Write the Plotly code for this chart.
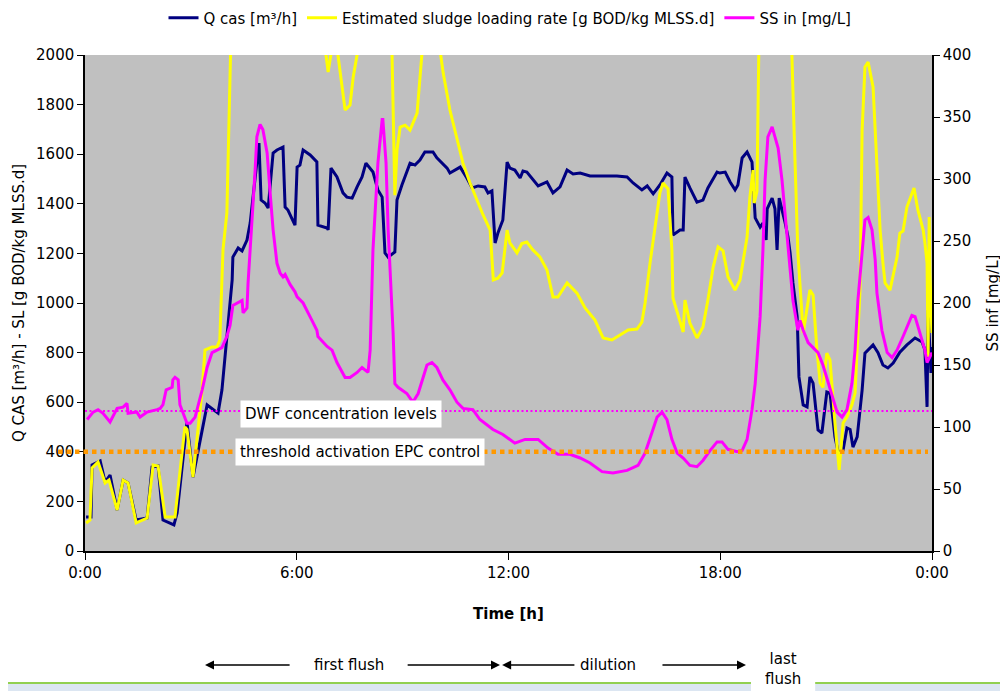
import plotly.graph_objects as go

# ---------------- data (time in decimal hours) ----------------
Q_T = [0.03,0.17,0.20,0.43,0.57,0.71,0.91,1.08,1.22,1.45,
       1.76,1.90,2.07,2.21,2.52,2.61,2.89,3.06,3.46,3.77,
       3.88,4.17,4.19,4.34,4.45,4.59,4.68,4.76,4.87,4.93,
       4.99,5.10,5.19,5.33,5.44,5.61,5.67,5.75,5.95,6.01,
       6.09,6.18,6.38,6.57,6.60,6.86,6.89,6.97,7.14,7.31,
       7.42,7.57,7.71,7.85,7.96,8.16,8.30,8.42,8.50,8.59,
       8.78,8.84,8.98,9.21,9.35,9.49,9.63,9.86,9.97,10.26,
       10.34,10.63,10.82,10.97,11.14,11.33,11.42,11.53,11.62,11.70,
       11.84,11.96,12.04,12.18,12.33,12.41,12.52,12.69,12.84,13.09,
       13.26,13.46,13.66,13.83,14.03,14.31,14.68,15.07,15.36,15.53,
       15.78,15.93,16.10,16.29,16.49,16.63,16.66,16.86,16.95,17.00,
       17.14,17.34,17.51,17.65,17.91,17.99,18.14,18.28,18.42,18.50,
       18.62,18.76,18.90,18.99,19.13,19.21,19.30,19.33,19.47,19.55,
       19.61,19.67,19.84,19.92,19.98,20.06,20.18,20.23,20.35,20.46,
       20.54,20.63,20.77,20.88,21.02,21.11,21.25,21.34,21.48,21.59,
       21.68,21.76,21.88,22.02,22.10,22.33,22.47,22.61,22.75,22.90,
       23.09,23.29,23.52,23.72,23.80,23.86,23.89,23.97,24.00]
Q_CAS = [137,137,347,363,278,306,165,286,274,125,
         133,339,343,125,105,153,520,298,589,556,
         649,1093,1185,1222,1210,1254,1322,1427,1564,1645,
         1415,1403,1383,1605,1617,1629,1387,1375,1314,1548,
         1556,1617,1597,1569,1314,1302,1295,1544,1508,1444,
         1427,1423,1468,1508,1564,1528,1456,1427,1202,1185,
         1206,1415,1476,1564,1556,1576,1609,1609,1585,1544,
         1524,1548,1504,1464,1472,1468,1444,1452,1242,1282,
         1335,1568,1544,1536,1504,1532,1528,1496,1472,1488,
         1444,1468,1536,1520,1524,1512,1512,1512,1508,1484,
         1456,1472,1440,1476,1524,1508,1274,1294,1294,1508,
         1464,1407,1415,1464,1528,1524,1528,1488,1456,1476,
         1585,1609,1568,1343,1306,1322,1254,1380,1423,1380,
         1214,1423,1322,1266,1202,1081,944,702,589,581,
         702,677,488,476,641,637,460,400,407,496,
         490,419,460,649,798,831,800,750,738,758,
         802,831,859,843,810,581,972,718,823]

SL_T = [0.03,0.14,0.20,0.37,0.57,0.68,0.91,1.08,1.22,1.45,
        1.76,1.93,2.07,2.27,2.55,2.83,2.89,3.06,3.31,3.40,
        3.60,3.74,3.82,3.91,4.02,4.08,4.14,4.40,5.20,6.20,
        6.80,6.89,7.02,7.08,7.14,7.37,7.51,7.60,7.77,8.20,
        8.65,8.70,8.78,8.84,8.93,9.07,9.21,9.41,9.55,9.80,
        10.06,10.15,10.34,10.57,10.71,10.91,11.11,11.28,11.48,11.57,
        11.70,11.82,11.96,12.04,12.24,12.38,12.52,12.69,12.89,13.09,
        13.26,13.40,13.66,13.94,14.17,14.45,14.68,14.93,15.16,15.39,
        15.64,15.78,15.87,16.01,16.29,16.38,16.52,16.63,16.66,16.80,
        16.95,17.00,17.14,17.34,17.51,17.65,17.80,17.94,18.08,18.22,
        18.42,18.56,18.70,18.76,18.84,18.93,18.96,19.04,19.10,19.50,
        19.98,20.03,20.12,20.20,20.35,20.54,20.63,20.74,20.83,20.91,
        21.02,21.11,21.25,21.37,21.48,21.59,21.73,21.82,21.96,22.02,
        22.10,22.19,22.33,22.44,22.53,22.61,22.67,22.81,22.90,23.01,
        23.09,23.18,23.29,23.43,23.49,23.60,23.75,23.80,23.86,23.89,
        23.92,23.94,24.00]
SLUDGE_LOAD = [113,125,335,359,274,286,165,286,274,113,
               133,347,343,137,137,500,490,298,637,810,
               823,823,851,1214,1363,1698,2100,2600,3000,2700,
               2050,1931,2050,2100,2030,1778,1798,1911,2050,2600,
               2100,2000,1435,1617,1709,1717,1697,1766,2010,2300,
               2020,1927,1778,1637,1564,1484,1415,1355,1294,1093,
               1100,1121,1294,1242,1202,1240,1246,1214,1186,1133,
               1024,1024,1081,1040,980,931,859,851,871,891,
               895,923,1000,1161,1444,1484,1460,1214,1020,952,
               883,1012,919,859,903,1012,1145,1226,1210,1105,
               1052,1093,1214,1266,1427,1536,1403,1450,2100,2800,
               2100,2000,1564,1202,879,1052,1032,810,677,660,
               798,770,516,327,516,540,589,637,1052,1698,
               1952,1972,1871,1564,1294,1161,1081,1052,1110,1185,
               1282,1290,1387,1443,1464,1375,1294,1242,1161,782,
               1347,1121,879]

SS_T = [0.06,0.09,0.23,0.37,0.51,0.71,0.91,1.08,1.19,1.22,
        1.47,1.56,1.76,2.04,2.13,2.21,2.30,2.47,2.49,2.55,
        2.64,2.69,2.89,2.98,3.12,3.32,3.46,3.60,3.74,3.88,
        4.02,4.11,4.19,4.39,4.45,4.48,4.59,4.62,4.68,4.73,
        4.82,4.87,4.96,5.04,5.16,5.24,5.33,5.44,5.53,5.61,
        5.67,5.81,5.95,6.01,6.18,6.43,6.57,6.60,6.86,7.00,
        7.14,7.37,7.51,7.71,7.85,8.02,8.08,8.16,8.30,8.42,
        8.44,8.53,8.59,8.73,8.78,8.87,9.12,9.29,9.44,9.69,
        9.83,9.97,10.14,10.34,10.54,10.71,10.99,11.19,11.56,11.84,
        12.18,12.47,12.84,13.12,13.40,13.74,14.03,14.31,14.65,14.96,
        15.36,15.67,15.87,16.07,16.21,16.35,16.49,16.63,16.78,16.95,
        17.14,17.34,17.51,17.71,17.91,18.05,18.22,18.48,18.62,18.76,
        18.90,18.99,19.13,19.21,19.27,19.35,19.47,19.55,19.64,19.75,
        19.84,19.92,19.98,20.06,20.20,20.26,20.35,20.49,20.63,20.77,
        20.91,21.11,21.31,21.45,21.59,21.73,21.82,21.90,22.02,22.10,
        22.19,22.30,22.39,22.44,22.58,22.73,22.87,23.01,23.18,23.43,
        23.52,23.66,23.80,23.86,24.00]
SS_IN = [106,107,112,114,111,104,115,116,119,111,
         112,108,112,114,115,118,130,132,138,140,
         138,118,103,103,108,130,148,160,162,164,
         173,182,198,201,202,192,196,216,243,259,
         307,334,344,340,321,291,259,232,224,221,
         223,215,209,205,200,186,178,173,165,162,
         152,140,140,144,148,144,162,243,313,348,
         348,313,259,176,135,132,127,120,127,150,
         152,148,138,130,120,115,114,106,98,94,
         87,90,90,83,78,78,75,71,64,63,
         65,69,79,96,108,112,106,90,79,75,
         69,68,73,81,88,88,82,80,81,90,
         114,135,189,243,299,334,342,334,325,299,
         269,245,224,202,178,186,178,168,164,160,
         150,130,112,108,114,135,162,202,243,267,
         269,259,235,208,178,160,156,162,173,190,
         189,176,162,152,160]

DWF_SS_LEVEL = 113        # mg/L (right axis)
EPC_THRESHOLD = 400       # left axis

X_TICKS = [0, 6, 12, 18, 24]
X_TICK_LABELS = ["0:00", "6:00", "12:00", "18:00", "0:00"]

# phase arrows (hours): (head, tail)
PHASE_ARROWS = [(3.40, 5.84), (11.76, 9.10), (11.82, 13.91), (18.73, 16.32),
                (18.84, 18.90), (20.83, 20.77)]
PHASE_LABELS = [("first flush", 7.48), ("dilution", 14.81)]
LAST_LABEL = ("last<br>flush", 19.78)
LAST_BOX = (18.87, 20.69)

FONT = "DejaVu Sans"

# geometry (page has an 8px body margin; figure sized to fill the window)
W, H = 1000, 683
ML, MR, MT, MB = 77, 76, 47, 140
PH = H - MT - MB   # plot height in px
PW = W - ML - MR   # plot width in px


def py(page_y):
    """paper y for a page pixel row"""
    return ((H - MB) - (page_y - 8)) / PH


def px(page_x):
    """paper x for a page pixel column"""
    return ((page_x - 8) - ML) / PW


fig = go.Figure()
fig.add_trace(go.Scatter(x=Q_T, y=Q_CAS, mode="lines", name="Q cas [m³/h]",
                         line=dict(color="#000080", width=3)))
fig.add_trace(go.Scatter(x=SL_T, y=SLUDGE_LOAD, mode="lines",
                         name="Estimated sludge loading rate [g BOD/kg MLSS.d]",
                         line=dict(color="#FFFF00", width=3)))
fig.add_trace(go.Scatter(x=SS_T, y=SS_IN, mode="lines", name="SS in [mg/L]",
                         yaxis="y2", line=dict(color="#FF00FF", width=3)))

shapes = [
    dict(type="line", xref="x", yref="y2", x0=0, x1=24, y0=DWF_SS_LEVEL, y1=DWF_SS_LEVEL,
         line=dict(color="#FF00FF", width=2, dash="2px,2.5px"), layer="above"),
    dict(type="line", xref="paper", yref="y", x0=px(58), x1=px(928), y0=EPC_THRESHOLD,
         y1=EPC_THRESHOLD, line=dict(color="#FF9900", width=4.5, dash="4.5px,4px"),
         layer="above"),
    dict(type="rect", xref="paper", yref="paper", x0=-0.1, x1=1.1, y0=py(683), y1=py(700),
         fillcolor="#DCE6F2", line=dict(width=0), layer="below"),
    dict(type="line", xref="paper", yref="paper", x0=-0.1, x1=1.1, y0=py(683), y1=py(683),
         line=dict(color="#92D050", width=2)),
    dict(type="rect", xref="x", yref="paper", x0=LAST_BOX[0], x1=LAST_BOX[1],
         y0=py(648), y1=py(700), fillcolor="white", line=dict(width=0)),
]

annotations = [
    dict(text="DWF concentration levels", xref="x", yref="y", x=4.39, y=552,
         xanchor="left", yanchor="middle", showarrow=False, bgcolor="white",
         borderpad=4, font=dict(size=15, color="black", family=FONT)),
    dict(text="threshold activation EPC control", xref="x", yref="y", x=4.25, y=399,
         xanchor="left", yanchor="middle", showarrow=False, bgcolor="white",
         borderpad=4, font=dict(size=15, color="black", family=FONT)),
]
ARROW_Y = py(665)
for head, tail in PHASE_ARROWS:
    annotations.append(dict(text="", xref="x", yref="paper", x=head, y=ARROW_Y,
                            axref="x", ayref="pixel", ax=tail, ay=0, showarrow=True,
                            arrowhead=2, arrowsize=1.2, arrowwidth=1.5, arrowcolor="black"))
for label, xpos in PHASE_LABELS:
    annotations.append(dict(text=label, xref="x", yref="paper", x=xpos, y=ARROW_Y,
                            xanchor="center", yanchor="middle", showarrow=False,
                            font=dict(size=15, color="black", family=FONT)))
annotations.append(dict(text=LAST_LABEL[0], xref="x", yref="paper", x=LAST_LABEL[1],
                        y=py(669), xanchor="center", yanchor="middle", showarrow=False,
                        font=dict(size=15, color="black", family=FONT)))

fig.update_layout(
    width=W, height=H,
    margin=dict(l=ML, r=MR, t=MT, b=MB, autoexpand=False),
    paper_bgcolor="white", plot_bgcolor="#C0C0C0",
    font=dict(family=FONT, size=15, color="black"),
    showlegend=True,
    legend=dict(orientation="h", x=px(510), xanchor="center", y=py(18), yanchor="middle",
                font=dict(size=15, family=FONT), itemwidth=30, tracegroupgap=0,
                bgcolor="rgba(0,0,0,0)"),
    xaxis=dict(range=[0, 24], tickvals=X_TICKS, ticktext=X_TICK_LABELS,
               ticks="outside", ticklen=7, tickcolor="black", showline=True,
               linecolor="black", linewidth=1.5, showgrid=False, zeroline=False,
               title=dict(text="<b>Time [h]</b>", standoff=28, font=dict(size=15))),
    yaxis=dict(range=[0, 2000], dtick=200, ticks="outside", ticklen=6, tickcolor="black",
               showline=True, linecolor="black", linewidth=1.5, showgrid=False,
               zeroline=False,
               title=dict(text="Q CAS [m³/h] - SL [g BOD/kg MLSS.d]", standoff=8,
                          font=dict(size=15))),
    yaxis2=dict(range=[0, 400], dtick=50, overlaying="y", side="right", ticks="outside",
                ticklen=6, tickcolor="black", showline=True, linecolor="black",
                linewidth=1.5, showgrid=False, zeroline=False,
                title=dict(text="SS inf [mg/L]", standoff=17, font=dict(size=15))),
    shapes=shapes, annotations=annotations,
)

fig.write_html("out.html")
